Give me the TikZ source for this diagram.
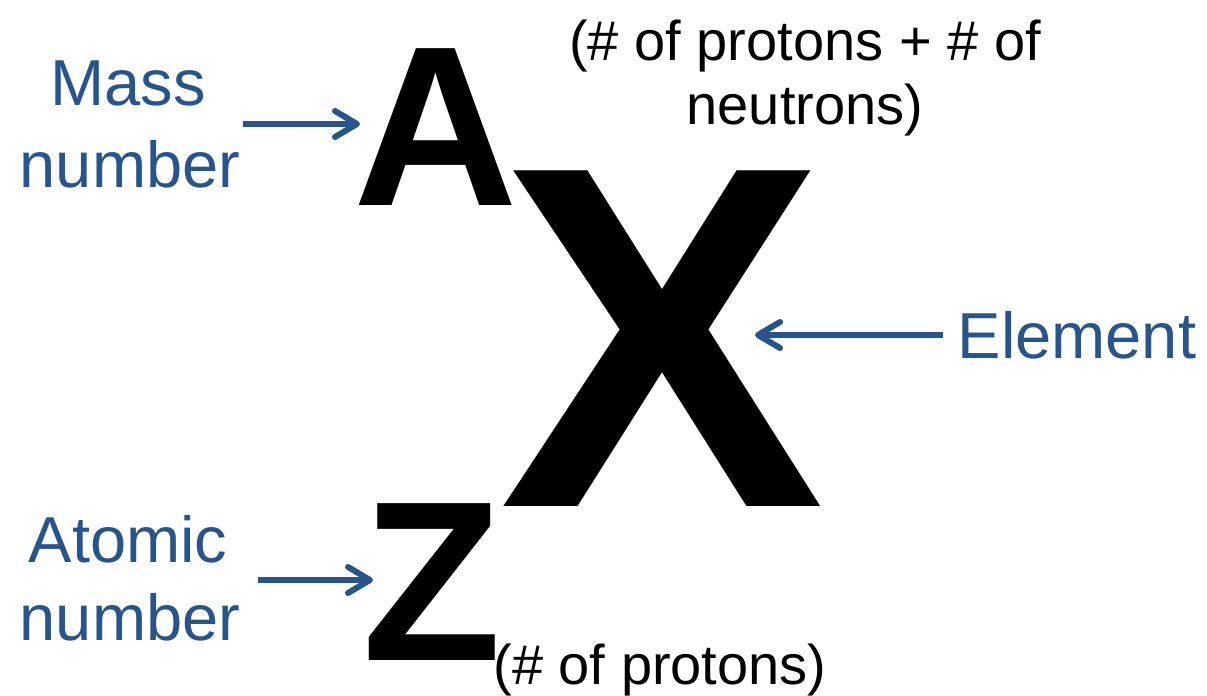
\documentclass[tikz,border=0pt]{standalone}
\usepackage{fontspec}
\setmainfont{Liberation Sans}
\usetikzlibrary{arrows.meta}
\definecolor{lblue}{RGB}{40,84,140}
\begin{document}
\begin{tikzpicture}[x=0.5pt,y=-0.5pt,
  lbl/.style={inner sep=0pt,anchor=base,text=lblue,font=\fontsize{32.5}{39}\selectfont},
  note/.style={inner sep=0pt,anchor=base,font=\fontsize{28}{34}\selectfont},
  sym/.style={inner sep=0pt,anchor=base,font=\bfseries\fontsize{114}{114}\selectfont},
  big/.style={inner sep=0pt,anchor=base,font=\bfseries\fontsize{244}{244}\selectfont},
  arr/.style={draw=lblue,line width=3pt,-{Straight Barb[length=11pt,width=13pt,round]}}]
\path[use as bounding box] (0,0) rectangle (1207,696);

% big symbols
\node[sym] (A) at (436,205) {A};
\node[big] (X) at (662,506) {X};
\node[sym] (Z) at (432,660) {Z};

% black notes
\node[note] (top1) at (805,61) {(\# of protons + \# of};
\node[note] (top2) at (805,124) {neutrons)};
\node[note] (bot) at (660,684) {(\# of protons)};

% blue labels
\node[lbl] (mass1) at (128,105) {Mass};
\node[lbl] (mass2) at (130,187) {number};
\node[lbl] (atom1) at (128,562) {Atomic};
\node[lbl] (atom2) at (130,640) {number};
\node[lbl] (elem) at (1077,358) {Element};

% arrow ends
\coordinate (tipA) at (360,124);
\coordinate (tailA) at (243,124);
\coordinate (tipZ) at (373,580);
\coordinate (tailZ) at (258,580);
\coordinate (tipX) at (755,335);
\coordinate (tailX) at (943,335);

\draw[arr] (tailA) -- (tipA);
\draw[arr] (tailZ) -- (tipZ);
\draw[arr] (tailX) -- (tipX);
\end{tikzpicture}
\end{document}
